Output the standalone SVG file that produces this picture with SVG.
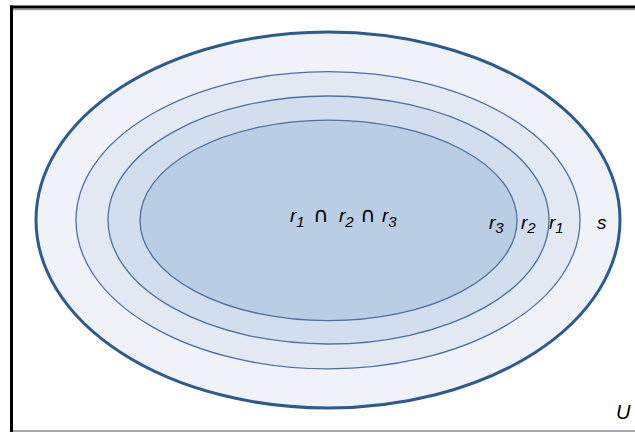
<svg xmlns="http://www.w3.org/2000/svg" width="635" height="432" viewBox="0 0 635 432">
  <style>
    .lbl { font-family: "Liberation Sans", "DejaVu Sans", sans-serif; font-style: italic; font-size: 19px; fill: #000; }
    .sub { font-size: 15px; }
    .cap { font-family: "DejaVu Sans", sans-serif; font-style: normal; font-size: 21px; }
    .inner { stroke: #4d70a0; stroke-width: 1.3; }
  </style>
  <rect x="0" y="0" width="635" height="432" fill="#ffffff"/>
  <g id="frame">
    <line x1="13" y1="9.5" x2="635" y2="9.5" stroke="#9a9a9a" stroke-width="1.5"/>
    <line x1="13" y1="431" x2="635" y2="431" stroke="#a8a8a8" stroke-width="2"/>
    <line x1="10" y1="7" x2="635" y2="7" stroke="#000" stroke-width="3"/>
    <line x1="11.5" y1="5.5" x2="11.5" y2="432" stroke="#000" stroke-width="3"/>
  </g>
  <g id="set-s">
    <ellipse cx="328" cy="220" rx="292" ry="188" fill="#eff3f9" stroke="#2e5a8e" stroke-width="3"/>
    <text class="lbl" x="597" y="229">s</text>
  </g>
  <g id="set-r1">
    <ellipse class="inner" cx="328" cy="220.3" rx="252" ry="148.6" fill="#e2e9f3"/>
    <text class="lbl" x="549" y="229">r<tspan class="sub" dy="4">1</tspan></text>
  </g>
  <g id="set-r2">
    <ellipse class="inner" cx="328.5" cy="220" rx="220.5" ry="124" fill="#d2deed"/>
    <text class="lbl" x="521" y="229">r<tspan class="sub" dy="4">2</tspan></text>
  </g>
  <g id="set-r3">
    <ellipse class="inner" cx="328.5" cy="220.4" rx="188.5" ry="100.3" fill="#b9cde5"/>
    <text class="lbl" x="489" y="229">r<tspan class="sub" dy="4">3</tspan></text>
  </g>
  <g id="intersection">
    <text class="lbl" x="290" y="222">r<tspan class="sub" dy="5">1</tspan><tspan class="cap" dy="-5" x="313">∩</tspan><tspan x="339">r</tspan><tspan class="sub" dy="5">2</tspan><tspan class="cap" dy="-5" x="360">∩</tspan><tspan x="382">r</tspan><tspan class="sub" dy="5">3</tspan></text>
  </g>
  <g id="universe">
    <text class="lbl" x="616" y="419" style="font-size:20px">U</text>
  </g>
  <g id="connectors"></g>
</svg>
